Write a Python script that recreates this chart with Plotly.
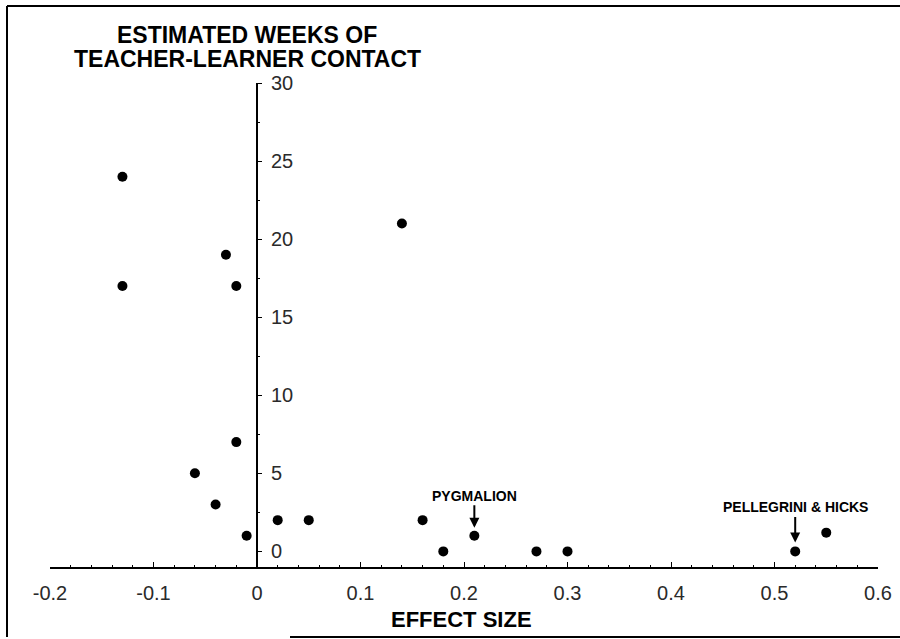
import plotly.graph_objects as go

# Data
effect_size = [-0.13, -0.13, -0.03, -0.02, -0.02, -0.06, -0.04, -0.01, 0.02, 0.05,
               0.14, 0.16, 0.18, 0.21, 0.27, 0.30, 0.52, 0.55]
weeks = [24, 17, 19, 17, 7, 5, 3, 1, 2, 2,
         21, 2, 0, 1, 0, 0, 0, 1.2]
x_ticks = [-0.2, -0.1, 0, 0.1, 0.2, 0.3, 0.4, 0.5, 0.6]
x_tick_labels = ["-0.2", "-0.1", "0", "0.1", "0.2", "0.3", "0.4", "0.5", "0.6"]
y_ticks = [0, 5, 10, 15, 20, 25, 30]
y_tick_labels = ["0", "5", "10", "15", "20", "25", "30"]
y_title_lines = ["ESTIMATED WEEKS OF", "TEACHER-LEARNER CONTACT"]
x_title = "EFFECT SIZE"
notes = [("PYGMALION", 0.21, 1, -40, 8), ("PELLEGRINI & HICKS", 0.52, 0, -44, 9)]

FONT = "Liberation Sans, Arial, sans-serif"

fig = go.Figure()
fig.add_trace(go.Scatter(
    x=effect_size, y=weeks, mode="markers",
    marker=dict(color="black", size=10, line=dict(width=0)),
    showlegend=False, hoverinfo="x+y",
))

W, H = 900, 639
L, R, T, B = 50, 22, 83, 72
pw, ph = W - L - R, H - T - B

def px_x(p):
    return (p - L) / pw

def px_y(p):
    return (H - B - p) / ph

fig.update_layout(
    width=W, height=H,
    margin=dict(l=L, r=R, t=T, b=B, pad=0, autoexpand=False),
    paper_bgcolor="white", plot_bgcolor="white",
    font=dict(family=FONT, color="black"),
    xaxis=dict(
        range=[-0.2, 0.6], showgrid=False, zeroline=False, automargin=False,
        showline=True, linecolor="black", linewidth=1.5,
        tickmode="array", tickvals=x_ticks, ticktext=x_tick_labels,
        ticks="inside", ticklen=5, tickwidth=1, tickcolor="black",
        minor=dict(dtick=0.02, ticks="inside", ticklen=2, tickcolor="black"),
        tickfont=dict(size=20, family=FONT, color="#2a2a2a"),
        ticklabelstandoff=7,
    ),
    yaxis=dict(
        range=[-1, 30], showgrid=False, zeroline=False, automargin=False,
        anchor="free", position=0.25, side="right",
        showline=True, linecolor="black", linewidth=2,
        tickmode="array", tickvals=y_ticks, ticktext=y_tick_labels,
        ticks="outside", ticklen=4, tickwidth=1, tickcolor="black",
        minor=dict(dtick=2.5, ticks="outside", ticklen=2, tickcolor="black"),
        tickfont=dict(size=20, family=FONT, color="#2a2a2a"),
        ticklabelstandoff=5,
    ),
)

annotations = []
for i, line in enumerate(y_title_lines):
    annotations.append(dict(
        text="<b>" + line + "</b>", xref="paper", yref="paper",
        x=px_x(247), y=px_y(35 + 24 * i), xanchor="center", yanchor="middle",
        showarrow=False, font=dict(size=23, family=FONT, color="black")))
annotations.append(dict(
    text="<b>" + x_title + "</b>", xref="paper", yref="paper",
    x=px_x(461), y=px_y(619), xanchor="center", yanchor="middle",
    showarrow=False, font=dict(size=22, family=FONT, color="black")))
for label, nx, ny, ay, so in notes:
    annotations.append(dict(
        text="<b>" + label + "</b>", x=nx, y=ny, xref="x", yref="y",
        showarrow=True, arrowhead=2, arrowsize=1, arrowwidth=2,
        arrowcolor="black", ax=0, ay=ay, standoff=so,
        font=dict(size=14, family=FONT, color="black"),
    ))
fig.update_layout(annotations=annotations)

# Scanned page frame
frame = dict(type="line", xref="paper", yref="paper",
             line=dict(color="black", width=2))
fig.add_shape(**frame, x0=px_x(7), x1=px_x(900), y0=px_y(6), y1=px_y(6))
fig.add_shape(**frame, x0=px_x(7), x1=px_x(7), y0=px_y(6), y1=px_y(637))
fig.add_shape(**frame, x0=px_x(290), x1=px_x(900), y0=px_y(637), y1=px_y(637))

fig.write_html(
    "out.html",
    config={"displayModeBar": False},
    post_script="document.body.style.margin='0';document.body.style.overflow='hidden';",
)
